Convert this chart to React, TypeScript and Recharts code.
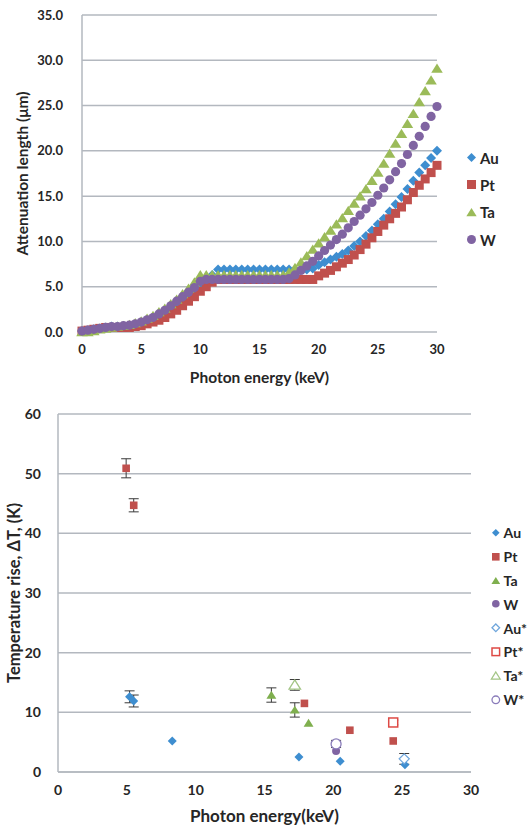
import React from 'react';
import { ScatterChart, Scatter, XAxis, YAxis, CartesianGrid, Legend, ErrorBar, Label } from 'recharts';

// ---------- Top chart data ----------
const energies = [0, 0.5, 1, 1.5, 2, 2.5, 3, 3.5, 4, 4.5, 5, 5.5, 6, 6.5, 7, 7.5, 8, 8.5, 9, 9.5, 10,
  10.5, 11, 11.5, 12, 12.5, 13, 13.5, 14, 14.5, 15, 15.5, 16, 16.5, 17, 17.5, 18, 18.5, 19, 19.5, 20,
  20.5, 21, 21.5, 22, 22.5, 23, 23.5, 24, 24.5, 25, 25.5, 26, 26.5, 27, 27.5, 28, 28.5, 29, 29.5, 30];

const auAtt = [0.1, 0.2, 0.3, 0.4, 0.5, 0.6, 0.6, 0.6,
  0.7, 0.8, 1.0, 1.2, 1.5, 1.8, 2.2, 2.6, 3.1, 3.6, 4.1, 4.7, 5.3,
  5.8, 6.3,
  6.9, 6.9, 6.9, 6.9, 6.9, 6.9, 6.9, 6.9, 6.9, 6.9, 6.9, 6.9, 6.9, 6.9, 6.9, 6.9, 7.0,
  7.4, 7.7, 8.0, 8.3, 8.6, 9.0, 9.5, 10.0, 10.6, 11.2, 11.9, 12.5, 13.3, 14.1, 14.9, 15.8, 16.7, 17.6, 18.4, 19.2, 20.0];

const ptAtt = [0.1, 0.2, 0.3, 0.4, 0.5, 0.5, 0.5, 0.5,
  0.5, 0.6, 0.7, 0.9, 1.1, 1.3, 1.6, 2.0, 2.4, 2.9, 3.4, 3.9, 4.5,
  5.0, 5.5,
  5.8, 5.8, 5.8, 5.8, 5.8, 5.8, 5.8, 5.8, 5.8, 5.8, 5.8, 5.8, 5.8, 5.8, 5.8, 5.8, 5.8,
  6.2, 6.5, 6.8, 7.2, 7.6, 8.0, 8.5, 9.1, 9.7, 10.4, 11.1, 11.8, 12.5, 13.1, 13.8, 14.6, 15.4, 16.2, 16.9, 17.6, 18.4];

const taAtt = [0.0, 0.0, 0.1, 0.3, 0.4, 0.5, 0.6, 0.7,
  0.8, 1.0, 1.2, 1.5, 1.8, 2.2, 2.6, 3.1, 3.6, 4.2, 4.8, 5.5, 6.3,
  6.3, 6.3, 6.3, 6.3, 6.3, 6.3, 6.3, 6.3, 6.3, 6.3, 6.3, 6.3, 6.3, 6.3,
  6.6, 7.1, 7.7, 8.4, 9.1, 9.8, 10.5, 11.2, 11.9, 12.6, 13.4, 14.2, 15.0, 15.8, 16.7, 17.6, 18.6, 19.7, 20.8, 21.9, 23.0, 24.1, 25.4, 26.6, 27.8, 29.1];

const wAtt = [0.1, 0.2, 0.3, 0.4, 0.5, 0.6, 0.6, 0.7,
  0.75, 0.9, 1.1, 1.35, 1.6, 2.0, 2.4, 2.9, 3.4, 3.9, 4.4, 4.9, 5.6,
  5.8, 5.8, 5.8, 5.8, 5.8, 5.8, 5.8, 5.8, 5.8, 5.8, 5.8, 5.8, 5.8, 5.8,
  5.9, 6.3, 6.8, 7.3, 7.8, 8.4, 9.0, 9.6, 10.2, 10.8, 11.5, 12.2, 12.9, 13.6, 14.3, 15.1, 15.9, 16.8, 17.7, 18.6, 19.6, 20.6, 21.6, 22.7, 23.8, 24.9];

const topXTicks = [0, 5, 10, 15, 20, 25, 30];
const topYTicks = [0, 5, 10, 15, 20, 25, 30, 35];

// ---------- Bottom chart data ----------
const auEnergy = [5.2, 5.5, 8.3, 17.5, 20.5, 25.2];
const auRise = [12.6, 11.9, 5.2, 2.5, 1.8, 1.2];
const auErr = [1.0, 1.0, null, null, null, null];

const ptEnergy = [4.95, 5.5, 17.9, 21.2, 24.35];
const ptRise = [50.9, 44.7, 11.5, 7.0, 5.2];
const ptErr = [1.6, 1.1, null, null, null];

const taEnergy = [15.5, 17.2, 18.2];
const taRise = [12.9, 10.4, 8.2];
const taErr = [1.2, 1.2, null];

const wEnergy = [20.2];
const wRise = [3.5];

const auStarEnergy = [25.15];
const auStarRise = [2.2];
const auStarErr = [0.9];

const ptStarEnergy = [24.35];
const ptStarRise = [8.3];
const ptStarErr = [0.4];

const taStarEnergy = [17.2];
const taStarRise = [14.6];
const taStarErr = [0.9];

const wStarEnergy = [20.2];
const wStarRise = [4.7];
const wStarErr = [0.6];

const botXTicks = [0, 5, 10, 15, 20, 25, 30];
const botYTicks = [0, 10, 20, 30, 40, 50, 60];

// ---------- helpers ----------
const FONT = "Lato, 'Open Sans', sans-serif";
const GRID = '#b3b8bf';
const TEXT = '#262626';

const BLUE = '#3e8ed0';
const RED = '#c0504d';
const GREEN = '#9bbb59';
const PURPLE = '#8064a2';

function zip(xs: number[], ys: number[], es?: (number | null)[]) {
  return xs.map((x, i) => ({ x, y: ys[i], err: es ? es[i] : null }));
}

type MType = 'diamond' | 'square' | 'triangle' | 'circle';

function Marker({ type, cx, cy, r, fill, stroke, sw }: any) {
  if (cx == null || cy == null) return null;
  const common = { fill, stroke: stroke || 'none', strokeWidth: sw || 0 };
  if (type === 'diamond') {
    return <polygon points={`${cx},${cy - r} ${cx + r},${cy} ${cx},${cy + r} ${cx - r},${cy}`} {...common} />;
  }
  if (type === 'square') {
    return <rect x={cx - r} y={cy - r} width={2 * r} height={2 * r} {...common} />;
  }
  if (type === 'triangle') {
    return <polygon points={`${cx},${cy - r} ${cx + r * 1.15},${cy + r * 0.85} ${cx - r * 1.15},${cy + r * 0.85}`} {...common} />;
  }
  return <circle cx={cx} cy={cy} r={r} {...common} />;
}

const shapeOf = (type: MType, r: number, fill: string, stroke?: string, sw?: number) =>
  (p: any) => <Marker type={type} cx={p.cx} cy={p.cy} r={r} fill={fill} stroke={stroke} sw={sw} />;

function LegendBox({ items, gap, fontSize, mr }: any) {
  return (
    <div style={{ fontFamily: FONT, fontWeight: 700, fontSize, color: TEXT }}>
      {items.map((it: any) => (
        <div key={it.name} style={{ display: 'flex', alignItems: 'center', height: gap }}>
          <svg width={mr * 2 + 4} height={mr * 2 + 4} style={{ marginRight: 2 }}>
            <Marker type={it.type} cx={mr + 2} cy={mr + 2} r={mr} fill={it.fill} stroke={it.stroke} sw={it.sw} />
          </svg>
          <span>{it.name}</span>
        </div>
      ))}
    </div>
  );
}

const yTitle = (text: string, x: number, fs: number) => (props: any) => {
  const vb = props.viewBox;
  const cy = vb.y + vb.height / 2;
  return (
    <text x={x} y={cy} transform={`rotate(-90, ${x}, ${cy})`} textAnchor="middle" dominantBaseline="central"
      fontFamily={FONT} fontWeight={700} fontSize={fs} fill={TEXT}>{text}</text>
  );
};

const xTitle = (text: string, dy: number, fs: number) => (props: any) => {
  const vb = props.viewBox;
  const cx = vb.x + vb.width / 2;
  return (
    <text x={cx} y={vb.y + dy} textAnchor="middle" dominantBaseline="central"
      fontFamily={FONT} fontWeight={700} fontSize={fs} fill={TEXT}>{text}</text>
  );
};

const tickStyle = { fontFamily: FONT, fontWeight: 700, fontSize: 13, fill: TEXT };
const tickStyleBot = { fontFamily: FONT, fontWeight: 700, fontSize: 14, fill: TEXT };

export default function App() {
  const topSeries = [
    { name: 'Au', type: 'diamond' as MType, r: 5, fill: BLUE, data: zip(energies, auAtt) },
    { name: 'Pt', type: 'square' as MType, r: 4.5, fill: RED, data: zip(energies, ptAtt) },
    { name: 'Ta', type: 'triangle' as MType, r: 5, fill: GREEN, data: zip(energies, taAtt) },
    { name: 'W', type: 'circle' as MType, r: 4.6, fill: PURPLE, data: zip(energies, wAtt) },
  ];

  const botSeries = [
    { name: 'Au', type: 'diamond' as MType, r: 4.5, fill: BLUE, data: zip(auEnergy, auRise, auErr) },
    { name: 'Pt', type: 'square' as MType, r: 3.8, fill: RED, data: zip(ptEnergy, ptRise, ptErr) },
    { name: 'Ta', type: 'triangle' as MType, r: 4.3, fill: '#7faf4e', data: zip(taEnergy, taRise, taErr) },
    { name: 'W', type: 'circle' as MType, r: 4, fill: PURPLE, data: zip(wEnergy, wRise) },
    { name: 'Au*', type: 'diamond' as MType, r: 5, fill: '#ffffff', stroke: '#6fa6dc', sw: 1.3, data: zip(auStarEnergy, auStarRise, auStarErr) },
    { name: 'Pt*', type: 'square' as MType, r: 4.5, fill: '#ffffff', stroke: '#de4a45', sw: 1.5, data: zip(ptStarEnergy, ptStarRise, ptStarErr) },
    { name: 'Ta*', type: 'triangle' as MType, r: 5, fill: '#ffffff', stroke: '#a3c585', sw: 1.3, data: zip(taStarEnergy, taStarRise, taStarErr) },
    { name: 'W*', type: 'circle' as MType, r: 5, fill: '#ffffff', stroke: '#8a7cba', sw: 1.3, data: zip(wStarEnergy, wStarRise, wStarErr) },
  ];

  return (
    <div style={{ position: 'absolute', left: 0, top: 0, width: 530, height: 828, background: '#fff', overflow: 'hidden' }}>
      <div style={{ position: 'absolute', left: 0, top: 0 }}>
        <ScatterChart width={530} height={390} margin={{ top: 15, right: 93, bottom: 18, left: 0 }}>
          <CartesianGrid vertical={false} stroke={GRID} strokeWidth={1.5} />
          <XAxis type="number" dataKey="x" domain={[0, 30]} ticks={topXTicks} height={40}
            axisLine={false} tickLine={false} tickSize={0} tickMargin={13} tick={tickStyle} interval={0}>
            <Label content={xTitle('Photon energy (keV)', 45, 15.5)} />
          </XAxis>
          <YAxis type="number" dataKey="y" domain={[0, 35]} ticks={topYTicks} width={82}
            axisLine={{ stroke: GRID, strokeWidth: 1.5 }} tickLine={false} tickSize={0} tickMargin={19}
            tick={tickStyle} tickFormatter={(v: number) => v.toFixed(1)} interval={0}>
            <Label content={yTitle('Attenuation length (μm)', 22, 15.5)} />
          </YAxis>
          {topSeries.map((s) => (
            <Scatter key={s.name} name={s.name} data={s.data} isAnimationActive={false}
              shape={shapeOf(s.type, s.r, s.fill)} />
          ))}
          <Legend layout="horizontal" verticalAlign="middle" align="center"
            wrapperStyle={{ position: 'absolute', left: 465, top: 144, width: 60, height: 120 }}
            content={() => (
              <LegendBox gap={27.3} fontSize={15} mr={4.5}
                items={topSeries.map((s) => ({ name: s.name, type: s.type, fill: s.fill }))} />
            )} />
        </ScatterChart>
      </div>
      <div style={{ position: 'absolute', left: 0, top: 400 }}>
        <ScatterChart width={530} height={428} margin={{ top: 14, right: 59, bottom: 16, left: 0 }}>
          <CartesianGrid vertical={false} stroke={GRID} strokeWidth={1.5} />
          <XAxis type="number" dataKey="x" domain={[0, 30]} ticks={botXTicks} height={40}
            axisLine={{ stroke: GRID, strokeWidth: 1.5 }} tickLine={false} tickSize={0} tickMargin={13}
            tick={tickStyleBot} interval={0}>
            <Label content={xTitle('Photon energy(keV)', 43, 17)} />
          </XAxis>
          <YAxis type="number" dataKey="y" domain={[0, 60]} ticks={botYTicks} width={58}
            axisLine={{ stroke: GRID, strokeWidth: 1.5 }} tickLine={false} tickSize={0} tickMargin={17}
            tick={tickStyleBot} interval={0}>
            <Label content={yTitle('Temperature rise,  ΔT, (K)', 14, 16.5)} />
          </YAxis>
          {botSeries.map((s) => (
            <Scatter key={s.name} name={s.name} data={s.data} isAnimationActive={false}
              shape={shapeOf(s.type, s.r, s.fill, (s as any).stroke, (s as any).sw)}>
              <ErrorBar dataKey="err" direction="y" width={5} stroke="#3a3a3a" strokeWidth={1} />
            </Scatter>
          ))}
          <Legend layout="horizontal" verticalAlign="middle" align="center"
            wrapperStyle={{ position: 'absolute', left: 490, top: 121, width: 60, height: 200 }}
            content={() => (
              <LegendBox gap={23.8} fontSize={14} mr={3.8}
                items={botSeries.map((s: any) => ({ name: s.name, type: s.type, fill: s.fill, stroke: s.stroke, sw: s.sw }))} />
            )} />
        </ScatterChart>
      </div>
    </div>
  );
}
